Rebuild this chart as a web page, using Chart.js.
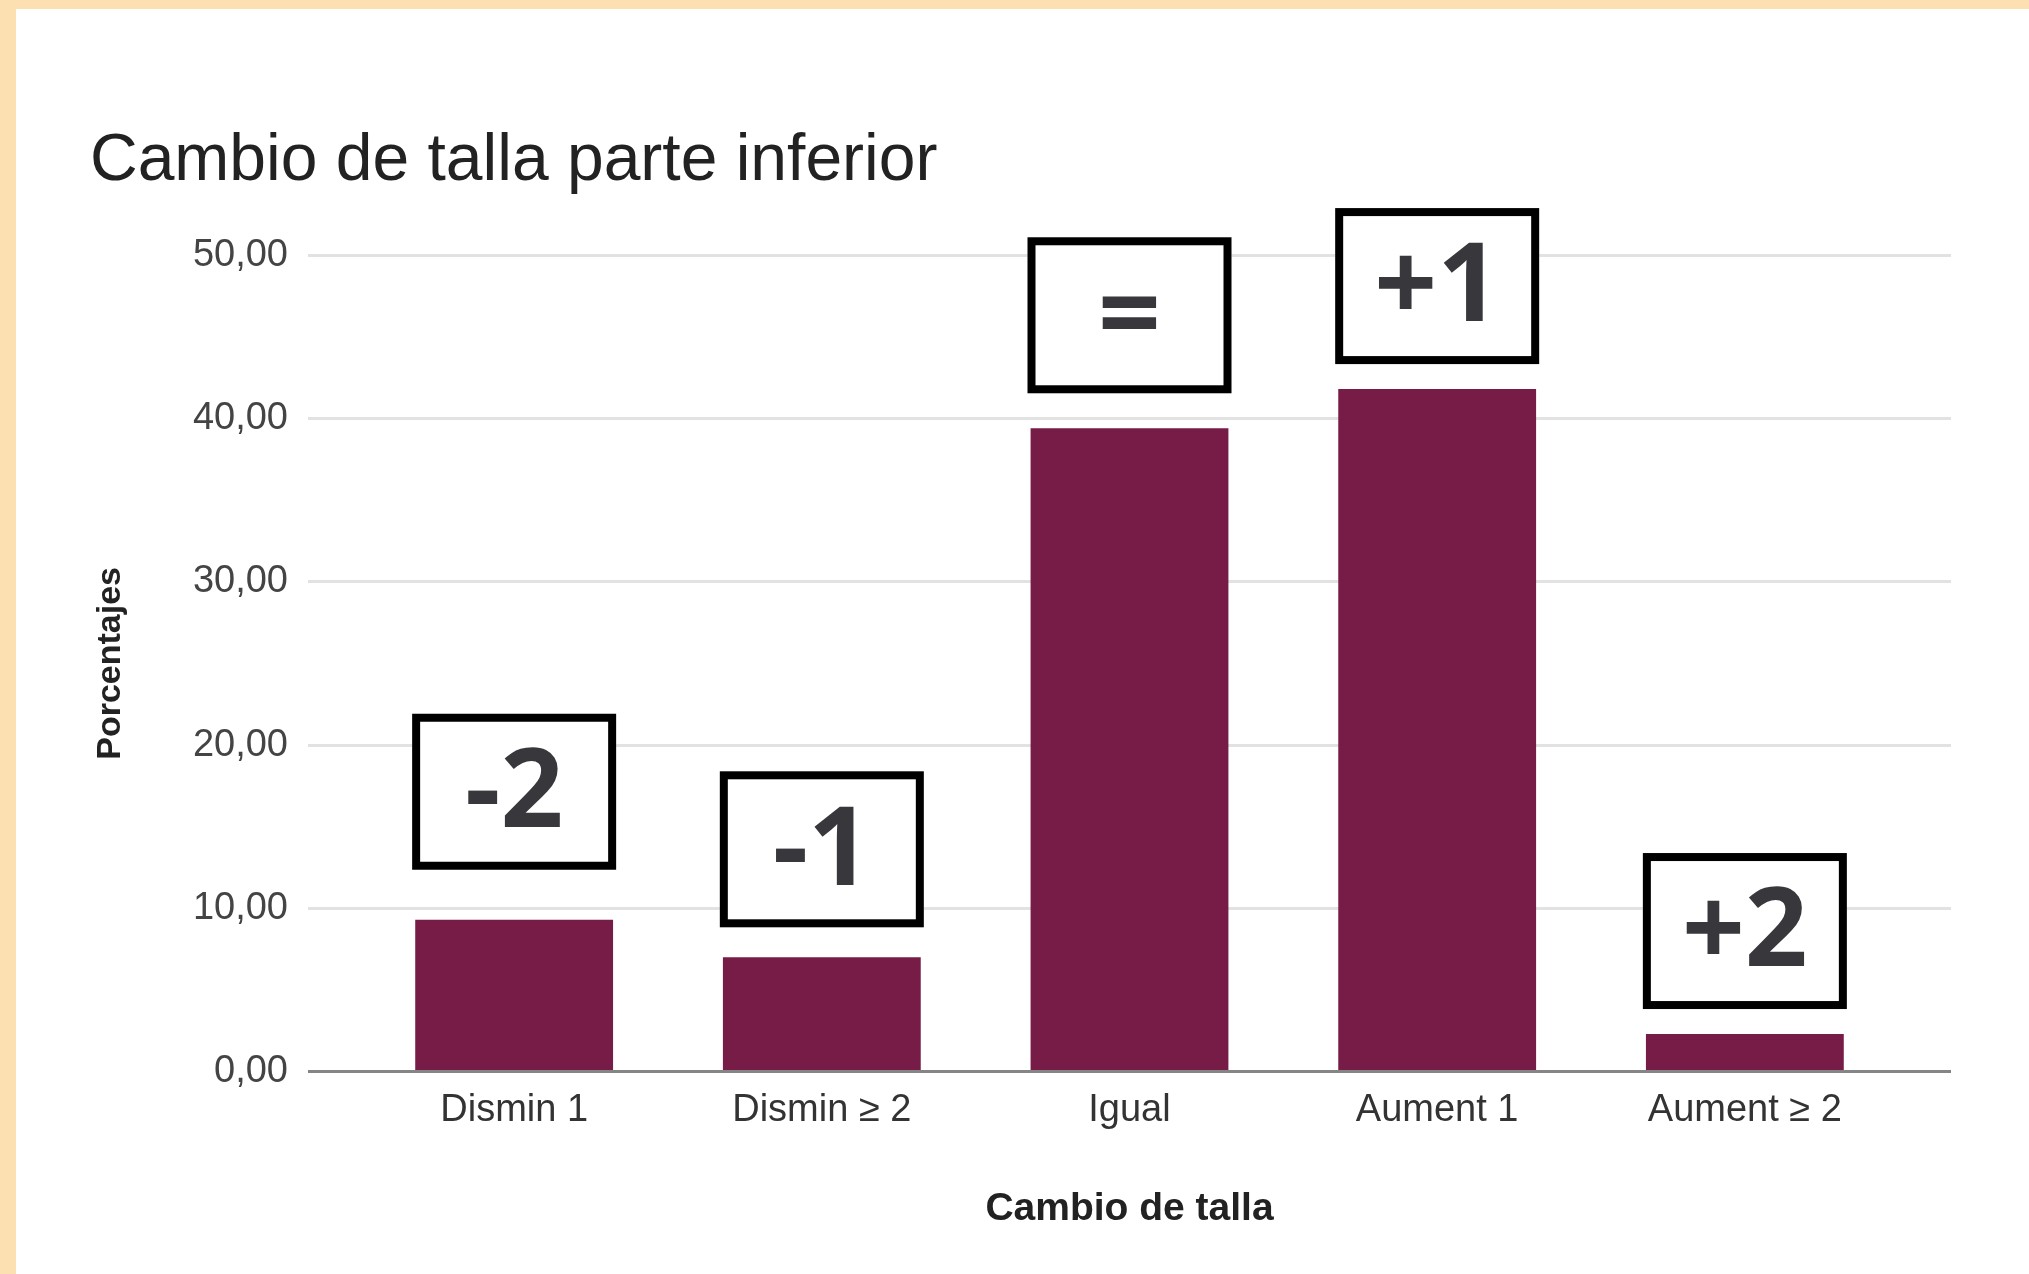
<!DOCTYPE html>
<html>
<head>
<meta charset="utf-8">
<script src="https://cdn.jsdelivr.net/npm/chart.js@4"></script>
<style>
    html, body { margin: 0; padding: 0; }
    body { width: 2029px; height: 1274px; position: relative; background: #fde0b2; overflow: hidden; }
    #paper { position: absolute; left: 16px; top: 9px; right: 0; bottom: 0; background: #ffffff; }
    #wrap { position: absolute; left: 0; top: 0; width: 2029px; height: 1274px; }
</style>
</head>
<body>
<div id="paper"></div>
<div id="wrap"><canvas id="chart"></canvas></div>
<script>
const categories = ['Dismin 1', 'Dismin ≥ 2', 'Igual', 'Aument 1', 'Aument ≥ 2'];
const percentages = [9.3, 7.0, 39.4, 41.8, 2.3];
const boxLabels = ['-2', '-1', '=', '+1', '+2'];
const yTicks = [0, 10, 20, 30, 40, 50];

bar_chart();
function bar_chart() {
    const $chart = document.querySelector('#chart');
    if (!$chart) {
        return;
    }
    const ctx = $chart.getContext('2d');

    // white boxes with the size change sign, drawn above each bar
    const signBoxes = {
        id: 'signBoxes',
        afterDatasetsDraw(chart, args, opts) {
            const meta = chart.getDatasetMeta(0);
            const c = chart.ctx;
            c.save();
            meta.data.forEach((bar, i) => {
                const w = opts.width, h = opts.height;
                const bottom = bar.y - opts.gaps[i];
                const left = bar.x - w / 2;
                const top = bottom - h;
                c.fillStyle = '#ffffff';
                c.fillRect(left, top, w, h);
                c.lineWidth = opts.border;
                c.strokeStyle = '#000000';
                c.strokeRect(left + opts.border / 2, top + opts.border / 2, w - opts.border, h - opts.border);
                c.fillStyle = '#38373c';
                c.font = 'bold 110px "Open Sans"';
                c.textAlign = 'center';
                c.textBaseline = 'middle';
                c.fillText(boxLabels[i], bar.x, top + h / 2 + 4);
            });
            c.restore();
        }
    };

    new Chart(ctx, {
        type: 'bar',
        data: {
            datasets: [{
                data: percentages.map((v, i) => ({ x: i, y: v })),
                backgroundColor: '#771c46',
                borderWidth: 0,
                barPercentage: 0.643,
                categoryPercentage: 1
            }]
        },
        plugins: [signBoxes],
        options: {
            responsive: true,
            maintainAspectRatio: false,
            animation: false,
            layout: {
                padding: { left: 90, right: 78, top: 122, bottom: 37 }
            },
            plugins: {
                legend: { display: false },
                tooltip: { enabled: false },
                title: {
                    display: true,
                    text: 'Cambio de talla parte inferior',
                    align: 'start',
                    color: '#222222',
                    font: { family: '"Liberation Sans", Arial', size: 66, weight: 'normal' },
                    padding: { top: 0, bottom: 54 }
                },
                signBoxes: {
                    width: 204,
                    height: 156,
                    border: 8,
                    gaps: [50, 30, 35, 25, 25]
                }
            },
            scales: {
                x: {
                    type: 'linear',
                    offset: false,
                    min: -0.67,
                    max: 4.67,
                    grid: { display: false },
                    border: { display: false },
                    ticks: {
                        stepSize: 1,
                        includeBounds: false,
                        autoSkip: false,
                        maxRotation: 0,
                        padding: 8,
                        color: '#333333',
                        font: { family: '"Liberation Sans", Arial', size: 38 },
                        callback: (v) => Number.isInteger(v) && categories[v] !== undefined ? categories[v] : ''
                    },
                    title: {
                        display: true,
                        text: 'Cambio de talla',
                        color: '#222222',
                        font: { family: '"Liberation Sans", Arial', size: 39, weight: 'bold' },
                        padding: { top: 45, bottom: 4 }
                    }
                },
                y: {
                    min: 0,
                    max: 50,
                    afterFit: (scale) => { scale.width = 218; },
                    afterBuildTicks: (scale) => { scale.ticks = yTicks.map(v => ({ value: v })); },
                    grid: {
                        drawTicks: false,
                        lineWidth: 3,
                        color: (c) => c.tick && c.tick.value === 0 ? '#858585' : '#e2e2e2'
                    },
                    border: { display: false },
                    ticks: {
                        padding: 20,
                        color: '#444444',
                        font: { family: '"Liberation Sans", Arial', size: 38 },
                        callback: (v) => v.toFixed(2).replace('.', ',')
                    },
                    title: {
                        display: true,
                        text: 'Porcentajes',
                        color: '#222222',
                        font: { family: '"Liberation Sans", Arial', size: 34, weight: 'bold' },
                        padding: { top: 0, bottom: 4 }
                    }
                }
            }
        }
    });
}
</script>
</body>
</html>
